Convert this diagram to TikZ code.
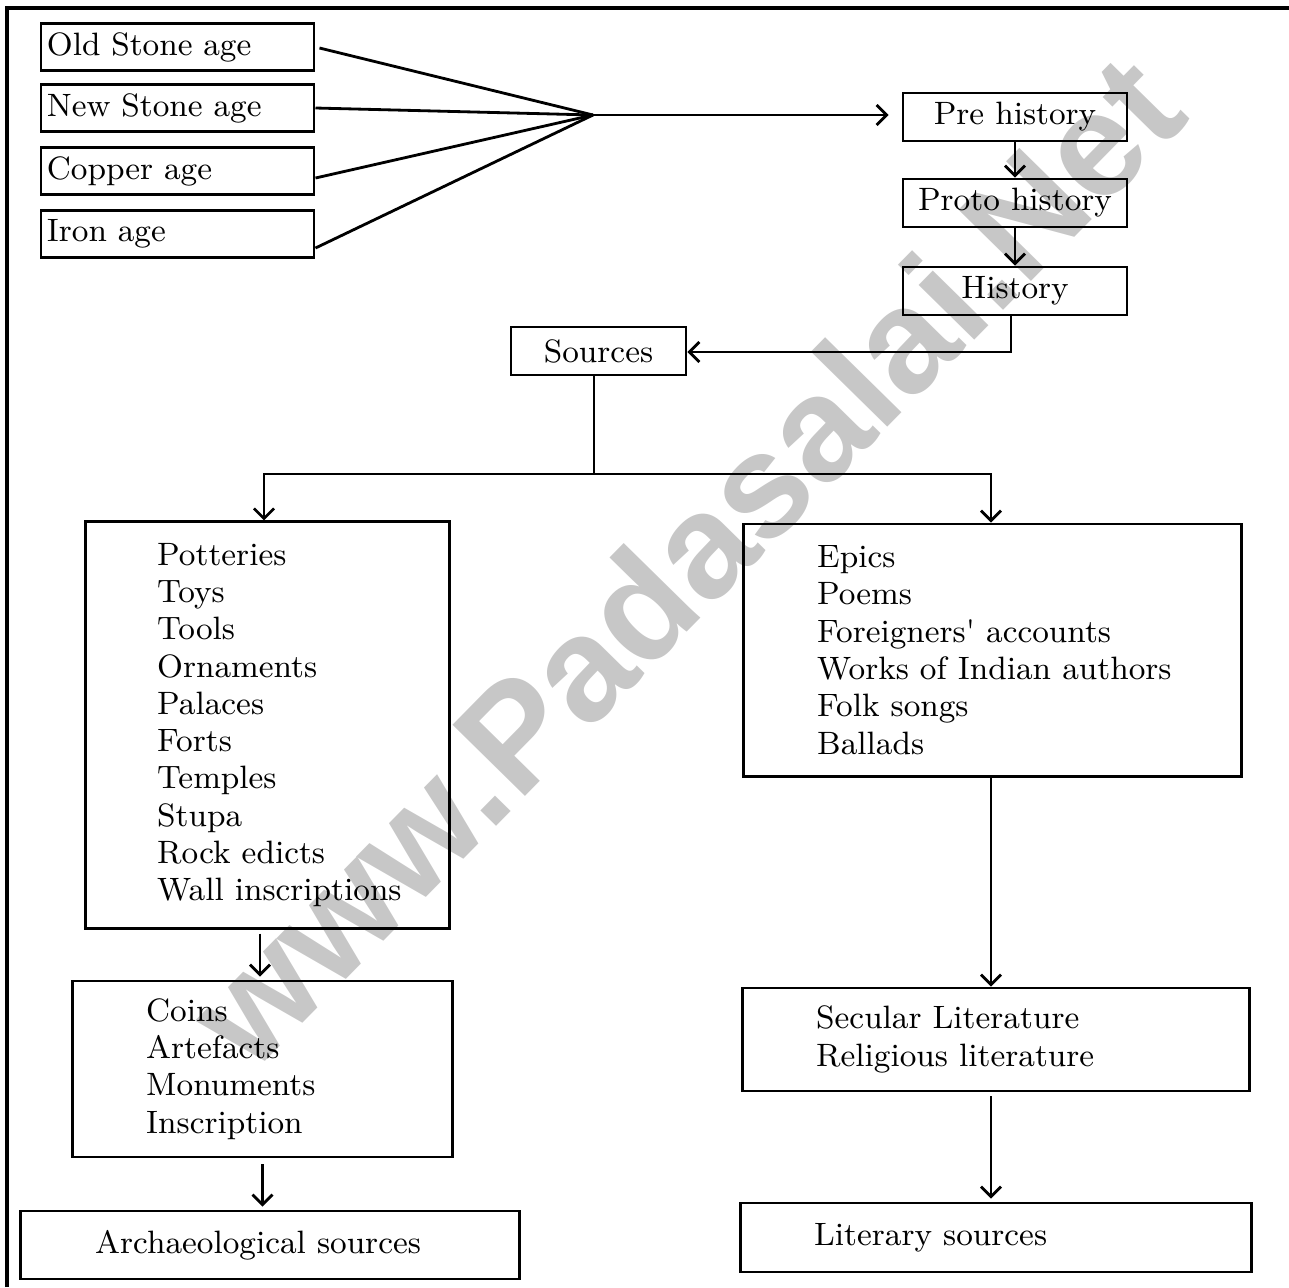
\documentclass[tikz,border=0pt]{standalone}
\usepackage{fontspec}
\usepackage{xcolor}
\usepackage{tikz}
\usetikzlibrary{positioning,calc,arrows.meta}
\newfontfamily\markfont{Liberation Sans}

\tikzset{
    box/.style={draw, line width=0.8pt, inner sep=0pt},
    agebox/.style={box, minimum width=2.73cm, minimum height=0.47cm, text width=2.61cm, inner xsep=0.06cm, align=left},
    erabox/.style={box, minimum width=2.24cm, minimum height=0.48cm},
    lbl/.style={font=\fontsize{9.2}{10.6}\selectfont, align=left, inner sep=0pt},
    arr/.style={-{Straight Barb[length=1mm,width=2mm]}, line width=0.8pt},
    link/.style={line width=0.8pt},
}

\begin{document}
\begin{tikzpicture}[x=0.01cm, y=-0.01cm, font=\fontsize{9.2}{10.6}\selectfont]
    \useasboundingbox (0,0) rectangle (1289,1287);

    % Watermark
    \node[rotate=45.5, text=black!22, font=\markfont\bfseries\fontsize{42}{42}\selectfont] (mark) at (684,560) {www.Padasalai.Net};

    % Frame
    \draw[line width=1pt] (7,1287) -- (7,8) -- (1289,8);

    % Ages
    \node[agebox] (old) at (177.5,47) {Old Stone age};
    \node[agebox] (newst) at (177.5,108) {New Stone age};
    \node[agebox] (copper) at (177.5,171) {Copper age};
    \node[agebox] (iron) at (177.5,234) {Iron age};
    \coordinate (hub) at (593,115);

    % Periods
    \node[erabox] (pre) at (1015,117) {Pre history};
    \node[erabox] (proto) at (1015,203) {Proto history};
    \node[erabox] (hist) at (1015,291) {History};
    \node[box, minimum width=1.75cm, minimum height=0.48cm] (src) at (598.5,351) {Sources};
    \coordinate (split) at (594,474);

    % Material side
    \node[box, minimum width=3.63cm, minimum height=4.06cm] (mat) at (267.5,725) {};
    \node[lbl, anchor=west, xshift=0.72cm] (matlist) at (mat.west) {Potteries\\Toys\\Tools\\Ornaments\\Palaces\\Forts\\Temples\\Stupa\\Rock edicts\\Wall inscriptions};
    \node[box, minimum width=3.79cm, minimum height=1.76cm] (mon) at (262.5,1069) {};
    \node[lbl, anchor=west, xshift=0.74cm] (monlist) at (mon.west) {Coins\\Artefacts\\Monuments\\Inscription};
    \node[box, minimum width=4.98cm, minimum height=0.68cm] (arch) at (270,1245) {};
    \node[lbl, anchor=west, xshift=0.75cm] (archtext) at (arch.west) {Archaeological sources};

    % Literary side
    \node[box, minimum width=4.97cm, minimum height=2.52cm] (lit) at (992.5,650) {};
    \node[lbl, anchor=west, xshift=0.74cm] (litlist) at (lit.west) {Epics\\Poems\\Foreigners\textquotesingle{} accounts\\Works of Indian authors\\Folk songs\\Ballads};
    \node[box, minimum width=5.06cm, minimum height=1.03cm] (rel) at (996,1039.5) {};
    \node[lbl, anchor=west, xshift=0.74cm] (rellist) at (rel.west) {Secular Literature\\Religious literature};
    \node[box, minimum width=5.10cm, minimum height=0.69cm] (litsrc) at (996,1237.5) {};
    \node[lbl, anchor=west, xshift=0.74cm] (litsrctext) at (litsrc.west) {Literary sources};

    % Connectors
    \draw[link] ([xshift=0.04cm,yshift=-0.01cm]old.east) -- (hub);
    \draw[link] (newst.east) -- (hub);
    \draw[link] ([yshift=-0.07cm]copper.east) -- (hub);
    \draw[link] ([yshift=-0.14cm]iron.east) -- (hub);
    \draw[arr, shorten >=0.13cm] (hub) -- (pre.west |- hub);
    \draw[arr] (pre.south) -- (proto.north);
    \draw[arr] (proto.south) -- (hist.north);
    \draw[arr] ([xshift=-0.04cm]hist.south) |- ([yshift=-0.01cm]src.east);
    \draw[link] (split |- src.south) -- (split);
    \draw[arr] (split) -| ([xshift=-0.035cm]mat.north);
    \draw[arr] (split) -| ([xshift=-0.015cm]lit.north);
    \draw[arr, shorten <=0.04cm, shorten >=0.03cm] ([xshift=-0.075cm]mat.south) -- ([xshift=-0.075cm]mat.south |- mon.north);
    \draw[arr, shorten <=0.06cm, shorten >=0.03cm] (mon.south) -- (mon.south |- arch.north);
    \draw[arr] ([xshift=-0.015cm]lit.south) -- ([xshift=-0.015cm]lit.south |- rel.north);
    \draw[arr, shorten <=0.04cm, shorten >=0.03cm] ([xshift=-0.05cm]rel.south) -- ([xshift=-0.05cm]rel.south |- litsrc.north);
\end{tikzpicture}
\end{document}
